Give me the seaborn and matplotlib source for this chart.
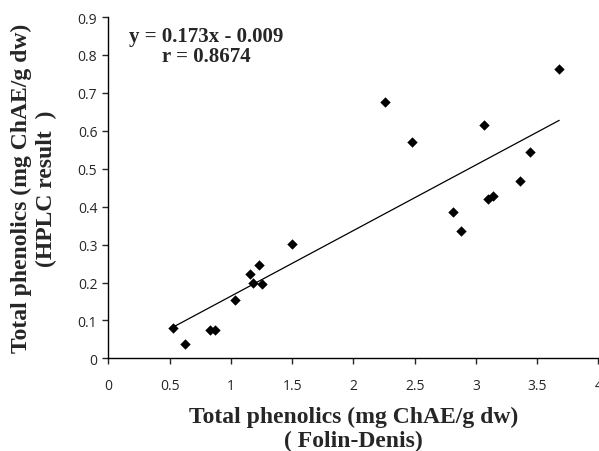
import numpy as np
import pandas as pd
import matplotlib
matplotlib.use("Agg")
import matplotlib.pyplot as plt
import seaborn as sns

# data
folin = [0.53, 0.627, 0.83, 0.87, 1.035, 1.155, 1.18, 1.226, 1.256, 1.498,
         2.26, 2.475, 2.815, 2.88, 3.07, 3.10, 3.14, 3.36, 3.44, 3.68]
hplc = [0.079, 0.037, 0.075, 0.074, 0.155, 0.222, 0.199, 0.245, 0.195, 0.302,
        0.675, 0.570, 0.385, 0.336, 0.615, 0.420, 0.427, 0.469, 0.543, 0.763]
slope = 0.173
intercept = -0.009
r_value = 0.8674

x_ticks = [0, 0.5, 1, 1.5, 2, 2.5, 3, 3.5, 4]
y_ticks = [0, 0.1, 0.2, 0.3, 0.4, 0.5, 0.6, 0.7, 0.8, 0.9]

df = pd.DataFrame({"folin": folin, "hplc": hplc})

sns.set_style("ticks")
plt.rcParams["font.family"] = ["Open Sans", "DejaVu Sans"]

fig = plt.figure(figsize=(5.99, 4.52), dpi=100)
ax = fig.add_axes([0.181, 0.205, 0.818, 0.755])

sns.scatterplot(data=df, x="folin", y="hplc", marker="D", color="black",
                s=28, edgecolor="black", linewidth=0, ax=ax, zorder=3)

# trend line over the data range
xl = np.array([min(folin), max(folin)])
ax.plot(xl, slope * xl + intercept, color="black", lw=0.9)

ax.set_xlim(0, 4)
ax.set_ylim(0, 0.9)
ax.set_xticks(x_ticks)
ax.set_xticklabels([f"{v:g}" for v in x_ticks])
ax.set_yticks(y_ticks)
ax.set_yticklabels([f"{v:g}" for v in y_ticks])
ax.tick_params(axis="x", length=4, width=1, pad=10, labelsize=10)
ax.tick_params(axis="y", length=4, width=1, pad=4, labelsize=10)
for side in ["left", "bottom"]:
    ax.spines[side].set_linewidth(1)
    ax.spines[side].set_color("black")
sns.despine(ax=ax)

serif = ["Liberation Serif", "DejaVu Serif"]
ax.set_xlabel("Total phenolics (mg ChAE/g dw)\n( Folin-Denis)",
              family=serif, fontweight="bold", fontsize=17,
              linespacing=1.15)
ax.xaxis.set_label_coords(0.5, -0.14)
ax.set_ylabel("Total phenolics (mg ChAE/g dw)\n(HPLC result  )",
              family=serif, fontweight="bold", fontsize=17,
              linespacing=1.25)
ax.yaxis.set_label_coords(-0.105, 0.5)

ax.text(0.2, 0.915, f"y = {slope}x - {abs(intercept)}\nr = {r_value}",
        transform=ax.transAxes, ha="center", va="center", family=serif,
        fontweight="bold", fontsize=15, linespacing=1.05)

fig.savefig("out.png", dpi=100)
